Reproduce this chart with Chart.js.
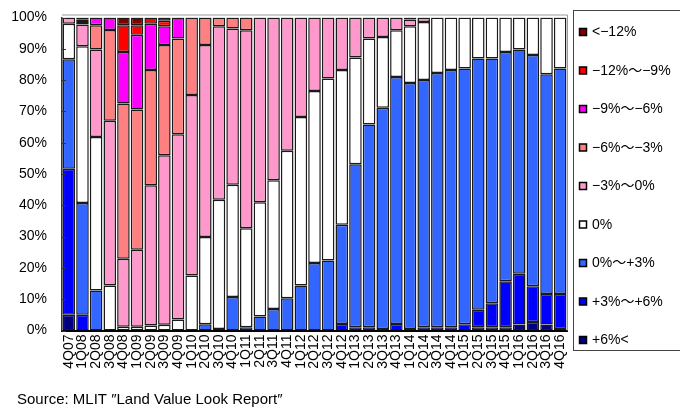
<!DOCTYPE html>
<html>
<head>
<meta charset="utf-8">
<script src="https://cdn.jsdelivr.net/npm/chart.js@4/dist/chart.umd.min.js"></script>
<style>
  html, body { margin: 0; padding: 0; background: #fff; }
  #wrap { position: relative; width: 680px; height: 409px; }
</style>
</head>
<body>
<div id="wrap"><canvas id="c" width="680" height="409"></canvas></div>
<script>
// Quarterly share of land-price survey points by rate of change (%)
const quarters = [
  '4Q07','1Q08','2Q08','3Q08','4Q08','1Q09','2Q09','3Q09','4Q09',
  '1Q10','2Q10','3Q10','4Q10','1Q11','2Q11','3Q11','4Q11',
  '1Q12','2Q12','3Q12','4Q12','1Q13','2Q13','3Q13','4Q13',
  '1Q14','2Q14','3Q14','4Q14','1Q15','2Q15','3Q15','4Q15',
  '1Q16','2Q16','3Q16','4Q16'
];

// Series, bottom of the stack first
const upOver6    = [5.0,0,0,0,0,0,0,0,0, 0,0,0,0,0,0,0,0, 0,0,0,0,0,0,0,0, 0,0,0,0,0,1.0,1.0,1.0, 1.9,2.7,1.9,0.5];
const up3to6     = [46.7,5.0,0,0,0,0,0,0,0, 0,0,0,0,0,0,0,0, 0,0,0,2.1,1.0,1.0,0.5,2.1, 0.5,1.0,1.0,1.0,2.0,5.6,7.7,14.7, 16.2,11.4,9.8,11.2];
const up0to3     = [35.0,35.7,12.8,0,0,0,0,0,0, 0,2.0,0.5,10.7,1.0,4.5,6.9,10.3, 14.4,21.6,22.4,31.7,52.1,64.8,70.7,78.9, 78.6,79.0,81.3,82.2,81.7,80.3,78.2,73.3, 71.7,73.9,70.2,72.0];
const flat0      = [11.3,50.1,49.0,14.4,1.2,1.2,1.6,1.8,3.5, 17.6,27.9,41.3,35.9,31.7,36.5,41.1,47.1, 53.8,54.9,58.1,49.4,34.1,27.5,22.6,14.9, 18.1,18.6,17.7,16.8,16.3,13.1,13.1,11.0, 10.2,12.0,18.1,16.3];
const down0to3   = [2.0,7.0,28.0,52.6,21.7,24.6,44.8,54.2,59.2, 57.6,61.3,55.4,49.9,63.2,59.0,52.0,42.6, 31.8,23.5,19.5,16.8,12.8,6.7,6.2,4.1, 2.2,1.4,0,0,0,0,0,0, 0,0,0,0];
const down3to6   = [0,0.8,7.7,29.0,49.6,44.8,36.8,35.2,30.6, 24.8,8.8,2.8,3.5,4.1,0,0,0, 0,0,0,0,0,0,0,0, 0.6,0,0,0,0,0,0,0, 0,0,0,0];
const down6to9   = [0,0.7,2.5,4.0,16.5,23.9,14.8,6.0,6.7, 0,0,0,0,0,0,0,0, 0,0,0,0,0,0,0,0, 0,0,0,0,0,0,0,0, 0,0,0,0];
const down9to12  = [0,0,0,0,8.5,3.0,2.0,1.8,0, 0,0,0,0,0,0,0,0, 0,0,0,0,0,0,0,0, 0,0,0,0,0,0,0,0, 0,0,0,0];
const downOver12 = [0,0.7,0,0,2.5,2.5,0,1.0,0, 0,0,0,0,0,0,0,0, 0,0,0,0,0,0,0,0, 0,0,0,0,0,0,0,0, 0,0,0,0];

const seriesLabels = ['+6%<', '+3%〜+6%', '0%〜+3%', '0%', '−3%〜0%', '−6%〜−3%', '−9%〜−6%', '−12%〜−9%', '<−12%'];
const seriesColors = ['#000080', '#0000FF', '#3366FF', '#FFFFFF', '#FF99CC', '#FF8080', '#FF00FF', '#FF0000', '#800000'];
const seriesValues = [upOver6, up3to6, up0to3, flat0, down0to3, down3to6, down6to9, down9to12, downOver12];

const yTicks = [0, 10, 20, 30, 40, 50, 60, 70, 80, 90, 100];
const sourceNote = 'Source: MLIT ″Land Value Look Report″';

const FONT = '"Liberation Sans", "Noto Sans CJK JP", Arial, sans-serif';
Chart.defaults.color = '#000';
Chart.defaults.font.family = FONT;
Chart.defaults.font.size = 14;

// Plot frame, inner y tick marks, legend panel and source line
const decorations = {
  id: 'decorations',
  afterDatasetsDraw(chart) {
    const { ctx, chartArea: a, scales: { y } } = chart;
    ctx.save();
    ctx.strokeStyle = '#333';
    ctx.lineWidth = 1;
    y.ticks.forEach(t => {
      const py = Math.round(y.getPixelForValue(t.value)) + 0.5;
      ctx.beginPath();
      ctx.moveTo(a.left, py);
      ctx.lineTo(a.left + 4, py);
      ctx.stroke();
    });
    ctx.strokeStyle = '#999';
    ctx.beginPath();
    ctx.moveTo(a.left, a.top - 2.5);
    ctx.lineTo(a.right + 0.5, a.top - 2.5);
    ctx.lineTo(a.right + 0.5, a.bottom);
    ctx.stroke();
    ctx.restore();
  },
  afterDraw(chart) {
    const { ctx } = chart;
    ctx.save();
    // legend panel
    ctx.strokeStyle = '#444';
    ctx.lineWidth = 1;
    ctx.strokeRect(573.5, 10.5, 120, 340);
    ctx.font = '14px ' + FONT;
    ctx.textBaseline = 'middle';
    ctx.textAlign = 'left';
    const items = chart.data.datasets.map(d => ({ label: d.label, color: d.backgroundColor })).reverse();
    items.forEach((it, k) => {
      const cy = 32 + k * 38.5;
      ctx.fillStyle = it.color;
      ctx.fillRect(579.5, cy - 3.5, 7, 7);
      ctx.strokeStyle = '#000';
      ctx.lineWidth = 1.5;
      ctx.strokeRect(579.5, cy - 3.5, 7, 7);
      ctx.fillStyle = '#000';
      ctx.fillText(it.label, 592, cy + 0.5);
    });
    // source line
    ctx.font = '15px ' + FONT;
    ctx.textBaseline = 'alphabetic';
    ctx.fillText(sourceNote, 17, 404);
    ctx.restore();
  }
};

new Chart(document.getElementById('c'), {
  type: 'bar',
  data: {
    labels: quarters,
    datasets: seriesValues.map((vals, i) => ({
      label: seriesLabels[i],
      data: vals,
      backgroundColor: seriesColors[i],
      borderColor: '#1a1a1a',
      borderWidth: 1.5,
      borderSkipped: false,
      categoryPercentage: 1.0,
      barPercentage: 0.92
    }))
  },
  options: {
    responsive: false,
    animation: false,
    devicePixelRatio: 1,
    layout: { padding: { left: 0, right: 113, top: 17.5, bottom: 0 } },
    plugins: {
      legend: { display: false },
      tooltip: { enabled: false }
    },
    scales: {
      x: {
        stacked: true,
        grid: { display: false, drawTicks: false },
        border: { display: true, color: '#000', width: 2 },
        ticks: {
          autoSkip: false,
          minRotation: 90,
          maxRotation: 90,
          padding: 4,
          font: { size: 14 }
        },
        afterFit(scale) { scale.height = 78.5; }
      },
      y: {
        stacked: true,
        min: 0,
        max: 100,
        grid: { display: false, drawTicks: false },
        border: { display: true, color: '#333', width: 1.5 },
        afterBuildTicks(scale) { scale.ticks = yTicks.map(v => ({ value: v })); },
        ticks: {
          padding: 15,
          font: { size: 14 },
          callback: v => v + '%'
        },
        afterFit(scale) {
          scale.width = 62;
          scale.paddingTop = 0;
          scale.paddingBottom = 0;
        }
      }
    }
  },
  plugins: [decorations]
});
</script>
</body>
</html>
